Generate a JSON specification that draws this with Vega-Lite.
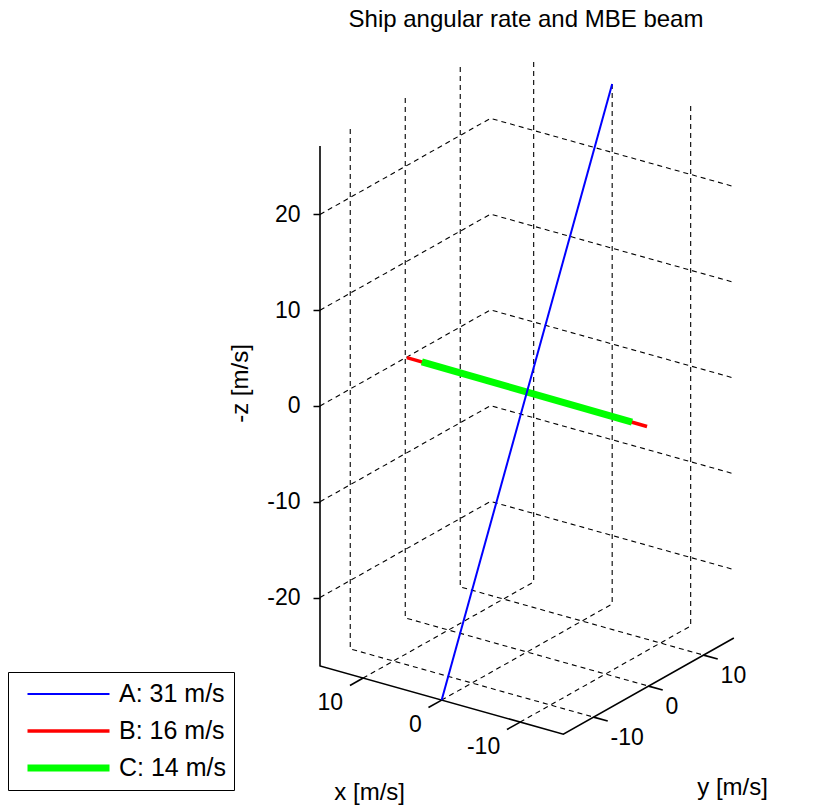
{
  "$schema": "https://vega.github.io/schema/vega-lite/v6.json",
  "autosize": {"type": "none"},
  "padding": {"left": 320, "top": 40, "right": 0, "bottom": 0},
  "width": 498,
  "height": 772,
  "background": "white",
  "config": {"view": {"stroke": null}, "font": "Liberation Sans"},
  "title": {"text": "Ship angular rate and MBE beam", "fontSize": 24, "font": "Liberation Sans", "fontWeight": "normal", "color": "black", "anchor": "middle", "dx": -43, "dy": 24, "offset": 13, "baseline": "alphabetic"},
  "data": {"values": [
    {"kind": "grid", "id": "gy-10", "o": 0, "x": 15.5, "y": -10, "z": 27.15},
    {"kind": "grid", "id": "gy-10", "o": 1, "x": 15.5, "y": -10, "z": -27.15},
    {"kind": "grid", "id": "gy-10", "o": 2, "x": -15.5, "y": -10, "z": -27.15},
    {"kind": "grid", "id": "gy0", "o": 0, "x": 15.5, "y": 0, "z": 27.15},
    {"kind": "grid", "id": "gy0", "o": 1, "x": 15.5, "y": 0, "z": -27.15},
    {"kind": "grid", "id": "gy0", "o": 2, "x": -15.5, "y": 0, "z": -27.15},
    {"kind": "grid", "id": "gy10", "o": 0, "x": 15.5, "y": 10, "z": 27.15},
    {"kind": "grid", "id": "gy10", "o": 1, "x": 15.5, "y": 10, "z": -27.15},
    {"kind": "grid", "id": "gy10", "o": 2, "x": -15.5, "y": 10, "z": -27.15},
    {"kind": "grid", "id": "gx10", "o": 0, "x": 10, "y": 15.5, "z": 27.15},
    {"kind": "grid", "id": "gx10", "o": 1, "x": 10, "y": 15.5, "z": -27.15},
    {"kind": "grid", "id": "gx10", "o": 2, "x": 10, "y": -15.5, "z": -27.15},
    {"kind": "grid", "id": "gx0", "o": 0, "x": 0, "y": 15.5, "z": 27.15},
    {"kind": "grid", "id": "gx0", "o": 1, "x": 0, "y": 15.5, "z": -27.15},
    {"kind": "grid", "id": "gx0", "o": 2, "x": 0, "y": -15.5, "z": -27.15},
    {"kind": "grid", "id": "gx-10", "o": 0, "x": -10, "y": 15.5, "z": 27.15},
    {"kind": "grid", "id": "gx-10", "o": 1, "x": -10, "y": 15.5, "z": -27.15},
    {"kind": "grid", "id": "gx-10", "o": 2, "x": -10, "y": -15.5, "z": -27.15},
    {"kind": "grid", "id": "gz-20", "o": 0, "x": 15.5, "y": -15.5, "z": -20},
    {"kind": "grid", "id": "gz-20", "o": 1, "x": 15.5, "y": 15.5, "z": -20},
    {"kind": "grid", "id": "gz-20", "o": 2, "x": -15.5, "y": 15.5, "z": -20},
    {"kind": "grid", "id": "gz-10", "o": 0, "x": 15.5, "y": -15.5, "z": -10},
    {"kind": "grid", "id": "gz-10", "o": 1, "x": 15.5, "y": 15.5, "z": -10},
    {"kind": "grid", "id": "gz-10", "o": 2, "x": -15.5, "y": 15.5, "z": -10},
    {"kind": "grid", "id": "gz0", "o": 0, "x": 15.5, "y": -15.5, "z": 0},
    {"kind": "grid", "id": "gz0", "o": 1, "x": 15.5, "y": 15.5, "z": 0},
    {"kind": "grid", "id": "gz0", "o": 2, "x": -15.5, "y": 15.5, "z": 0},
    {"kind": "grid", "id": "gz10", "o": 0, "x": 15.5, "y": -15.5, "z": 10},
    {"kind": "grid", "id": "gz10", "o": 1, "x": 15.5, "y": 15.5, "z": 10},
    {"kind": "grid", "id": "gz10", "o": 2, "x": -15.5, "y": 15.5, "z": 10},
    {"kind": "grid", "id": "gz20", "o": 0, "x": 15.5, "y": -15.5, "z": 20},
    {"kind": "grid", "id": "gz20", "o": 1, "x": 15.5, "y": 15.5, "z": 20},
    {"kind": "grid", "id": "gz20", "o": 2, "x": -15.5, "y": 15.5, "z": 20},
    {"kind": "axis", "id": "ax", "o": 0, "x": 15.5, "y": -15.5, "z": 27.15},
    {"kind": "axis", "id": "ax", "o": 1, "x": 15.5, "y": -15.5, "z": -27.15},
    {"kind": "axis", "id": "ax", "o": 2, "x": -15.5, "y": -15.5, "z": -27.15},
    {"kind": "axis", "id": "ax", "o": 3, "x": -15.5, "y": 15.5, "z": -27.15},
    {"kind": "axis", "id": "tx10", "o": 0, "x": 10, "y": -15.5, "z": -27.15},
    {"kind": "axis", "id": "tx10", "o": 1, "x": 10, "y": -17.9, "z": -27.15},
    {"kind": "axis", "id": "tx0", "o": 0, "x": 0, "y": -15.5, "z": -27.15},
    {"kind": "axis", "id": "tx0", "o": 1, "x": 0, "y": -17.9, "z": -27.15},
    {"kind": "axis", "id": "tx-10", "o": 0, "x": -10, "y": -15.5, "z": -27.15},
    {"kind": "axis", "id": "tx-10", "o": 1, "x": -10, "y": -17.9, "z": -27.15},
    {"kind": "axis", "id": "ty-10", "o": 0, "x": -15.5, "y": -10, "z": -27.15},
    {"kind": "axis", "id": "ty-10", "o": 1, "x": -17.3, "y": -10, "z": -27.15},
    {"kind": "axis", "id": "ty0", "o": 0, "x": -15.5, "y": 0, "z": -27.15},
    {"kind": "axis", "id": "ty0", "o": 1, "x": -17.3, "y": 0, "z": -27.15},
    {"kind": "axis", "id": "ty10", "o": 0, "x": -15.5, "y": 10, "z": -27.15},
    {"kind": "axis", "id": "ty10", "o": 1, "x": -17.3, "y": 10, "z": -27.15},
    {"kind": "series", "series": "B: 16 m/s", "id": "B", "o": 0, "x": 16, "y": 1, "z": -0.4},
    {"kind": "series", "series": "B: 16 m/s", "id": "B", "o": 1, "x": -16, "y": -1, "z": 0.4},
    {"kind": "series", "series": "C: 14 m/s", "id": "C", "o": 0, "x": 14, "y": 0.875, "z": -0.35},
    {"kind": "series", "series": "C: 14 m/s", "id": "C", "o": 1, "x": -14, "y": -0.875, "z": 0.35},
    {"kind": "series", "series": "A: 31 m/s", "id": "A", "o": 0, "x": 0, "y": -15.5, "z": -27.15},
    {"kind": "series", "series": "A: 31 m/s", "id": "A", "o": 1, "x": 0, "y": 15.5, "z": 27.15},
    {"kind": "xlab", "label": "10", "x": 10, "y": -15.5, "z": -27.15},
    {"kind": "xlab", "label": "0", "x": 0, "y": -15.5, "z": -27.15},
    {"kind": "xlab", "label": "-10", "x": -10, "y": -15.5, "z": -27.15},
    {"kind": "ylab", "label": "-10", "x": -15.5, "y": -10, "z": -27.15},
    {"kind": "ylab", "label": "0", "x": -15.5, "y": 0, "z": -27.15},
    {"kind": "ylab", "label": "10", "x": -15.5, "y": 10, "z": -27.15},
    {"kind": "xtitle", "label": "x [m/s]", "x": 0, "y": -15.5, "z": -27.15},
    {"kind": "ytitle", "label": "y [m/s]", "x": -15.5, "y": 0, "z": -27.15}
  ]},
  "transform": [
    {"calculate": "(7.85 * (15.5 - datum.x) + 5.5 * (datum.y + 15.5)) / 9.575", "as": "u"},
    {"calculate": "datum.z + (3.1 * (datum.y + 15.5) - 2.2 * (15.5 - datum.x)) / 9.575", "as": "v"}
  ],
  "encoding": {
    "x": {"field": "u", "type": "quantitative", "scale": {"domain": [0, 52.01], "nice": false, "zero": false}, "axis": null},
    "y": {"field": "v", "type": "quantitative", "scale": {"domain": [-42.4, 38.22], "nice": false, "zero": false},
      "axis": {"values": [-20, -10, 0, 10, 20], "labelExpr": "'' + datum.value", "domain": false, "grid": false, "ticks": true, "tickSize": 7, "tickColor": "black", "tickWidth": 1.5,
        "labelFontSize": 23, "labelFont": "Liberation Sans", "labelColor": "black", "labelPadding": 13,
        "title": "-z [m/s]", "titleFontSize": 24, "titleFont": "Liberation Sans", "titleFontWeight": "normal", "titleColor": "black",
        "titleX": -80, "titleY": 343, "titleAngle": -90, "titleAlign": "center", "titleBaseline": "middle"}}
  },
  "layer": [
    {
      "transform": [{"filter": "datum.kind == 'grid'"}],
      "mark": {"type": "line", "color": "black", "strokeWidth": 1.1, "strokeDash": [5, 4]},
      "encoding": {"detail": {"field": "id"}, "order": {"field": "o", "type": "quantitative"}}
    },
    {
      "transform": [{"filter": "datum.kind == 'axis'"}],
      "mark": {"type": "line", "color": "black", "strokeWidth": 1.6},
      "encoding": {"detail": {"field": "id"}, "order": {"field": "o", "type": "quantitative"}}
    },
    {
      "transform": [{"filter": "datum.kind == 'series'"}],
      "mark": {"type": "line"},
      "encoding": {
        "detail": {"field": "id"},
        "order": {"field": "o", "type": "quantitative"},
        "color": {"field": "series", "type": "nominal",
          "scale": {"domain": ["A: 31 m/s", "B: 16 m/s", "C: 14 m/s"], "range": ["#0000ff", "#ff0000", "#00ff00"]},
          "legend": {"orient": "none", "legendX": -312, "legendY": 632, "title": null, "symbolType": "stroke", "symbolSize": 6724,
            "clipHeight": 28, "rowPadding": 9, "padding": 8, "symbolOffset": 8, "labelOffset": 6, "labelFontSize": 25,
            "labelFont": "Liberation Sans", "labelColor": "black", "strokeColor": "black", "fillColor": "white"}},
        "strokeWidth": {"field": "series", "type": "nominal",
          "scale": {"type": "ordinal", "domain": ["A: 31 m/s", "B: 16 m/s", "C: 14 m/s"], "range": [2, 3.5, 7]},
          "legend": {"orient": "none", "legendX": -312, "legendY": 632, "title": null, "symbolType": "stroke", "symbolSize": 6724,
            "clipHeight": 28, "rowPadding": 9, "padding": 8, "symbolOffset": 8, "labelOffset": 6, "labelFontSize": 25,
            "labelFont": "Liberation Sans", "labelColor": "black", "strokeColor": "black", "fillColor": "white"}}
      }
    },
    {
      "transform": [{"filter": "datum.kind == 'xlab'"}],
      "mark": {"type": "text", "font": "Liberation Sans", "fontSize": 23, "color": "black", "align": "right", "baseline": "middle", "dx": -20, "dy": 25},
      "encoding": {"text": {"field": "label"}}
    },
    {
      "transform": [{"filter": "datum.kind == 'ylab'"}],
      "mark": {"type": "text", "font": "Liberation Sans", "fontSize": 23, "color": "black", "align": "left", "baseline": "middle", "dx": 17, "dy": 21},
      "encoding": {"text": {"field": "label"}}
    },
    {
      "transform": [{"filter": "datum.kind == 'xtitle'"}],
      "mark": {"type": "text", "font": "Liberation Sans", "fontSize": 24, "color": "black", "align": "center", "baseline": "middle", "dx": -72, "dy": 93},
      "encoding": {"text": {"field": "label"}}
    },
    {
      "transform": [{"filter": "datum.kind == 'ytitle'"}],
      "mark": {"type": "text", "font": "Liberation Sans", "fontSize": 24, "color": "black", "align": "center", "baseline": "middle", "dx": 84, "dy": 102},
      "encoding": {"text": {"field": "label"}}
    }
  ]
}
